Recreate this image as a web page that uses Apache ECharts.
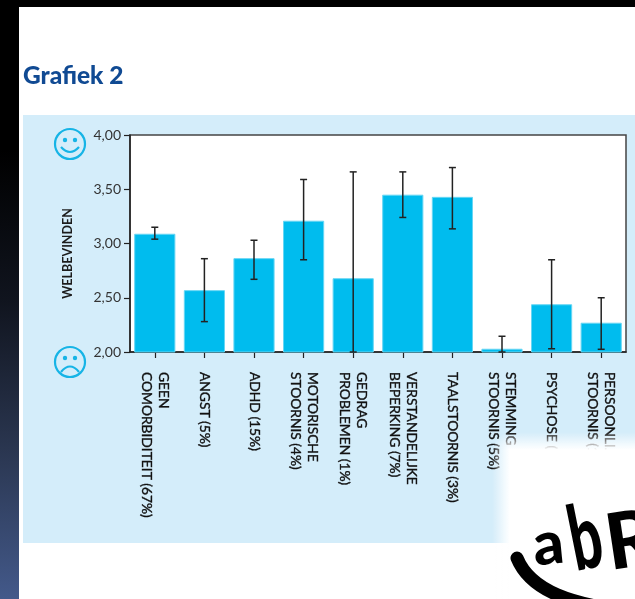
<!DOCTYPE html>
<html><head><meta charset="utf-8">
<style>html,body{margin:0;padding:0;background:#fff}#c{width:635px;height:599px}</style>
<script src="https://cdn.jsdelivr.net/npm/echarts@6/dist/echarts.min.js"></script>
</head><body><div id="c"></div>
<script>
const categories = ['GEEN\nCOMORBIDITEIT (67%)','ANGST (5%)','ADHD (15%)','MOTORISCHE\nSTOORNIS (4%)','GEDRAG\nPROBLEMEN (1%)','VERSTANDELIJKE\nBEPERKING (7%)','TAALSTOORNIS (3%)','STEMMING\nSTOORNIS (5%)','PSYCHOSE (1%)','PERSOONLIJK\nSTOORNIS (1%)'];
const means = [3.09,2.57,2.865,3.21,2.68,3.45,3.43,2.03,2.44,2.27];
const errHigh = [3.15,2.86,3.03,3.59,3.66,3.66,3.70,2.145,2.85,2.50];
const errLow = [3.04,2.28,2.67,2.85,2.0,3.24,3.135,2.0,2.03,2.025];
const yTicks = {min:2,max:4,step:0.5};
const FONT = 'Lato, "Open Sans", sans-serif';
const chart = echarts.init(document.getElementById('c'),null,{renderer:'canvas'});
const G = echarts.graphic;

function face(cy, smile){
  const cx=70, c='#16b4e6';
  const y1 = smile ? cy+3 : cy+10;
  const cp = smile ? cy+13 : cy-1;
  return {type:'group',silent:true,children:[
    {type:'circle',shape:{cx,cy,r:15},style:{fill:'transparent',stroke:c,lineWidth:2.2}},
    {type:'circle',shape:{cx:cx-5,cy:cy-4,r:2.2},style:{fill:c}},
    {type:'circle',shape:{cx:cx+5,cy:cy-4,r:2.2},style:{fill:c}},
    {type:'bezierCurve',shape:{x1:cx-9,y1:y1,x2:cx+9,y2:y1,cpx1:cx,cpy1:cp},style:{fill:'transparent',stroke:c,lineWidth:2.2}}
  ]};
}
function logoLetter(t,x,y,size,rot,sx){
  return {type:'text',silent:true,zlevel:1,x,y,rotation:rot,scaleX:sx,
    style:{x:0,y:0,text:t,fill:'#000',font:'900 '+size+'px '+FONT,verticalAlign:'bottom'}};
}
const clear='rgba(255,255,255,0)', white='#fff';

chart.setOption({
  animation:false,
  backgroundColor:'#fff',
  graphic:[
    {type:'rect',z:-10,silent:true,shape:{x:0,y:0,width:635,height:7},style:{fill:'#000'}},
    {type:'rect',z:-10,silent:true,shape:{x:0,y:0,width:19,height:599},style:{fill:new G.LinearGradient(0,0,0,1,[{offset:0,color:'#000'},{offset:0.25,color:'#000'},{offset:0.5,color:'#10141e'},{offset:0.75,color:'#2a3650'},{offset:1,color:'#43598a'}])}},
    {type:'rect',z:-10,silent:true,shape:{x:23,y:115,width:612,height:428},style:{fill:'#d4edfa'}},
    {type:'text',silent:true,style:{x:23,y:64,text:'Grafiek 2',fill:'#104a93',font:'900 24.5px '+FONT}},
    face(144,true),
    face(362,false),
    {type:'rect',silent:true,zlevel:1,shape:{x:510,y:450,width:125,height:149},style:{fill:white}},
    {type:'rect',silent:true,zlevel:1,shape:{x:510,y:432,width:125,height:18},style:{fill:new G.LinearGradient(0,0,0,1,[{offset:0,color:clear},{offset:1,color:white}])}},
    {type:'rect',silent:true,zlevel:1,shape:{x:492,y:450,width:18,height:149},style:{fill:new G.LinearGradient(0,0,1,0,[{offset:0,color:clear},{offset:1,color:white}])}},
    {type:'rect',silent:true,zlevel:1,shape:{x:492,y:432,width:18,height:18},style:{fill:new G.RadialGradient(1,1,1,[{offset:0,color:white},{offset:1,color:clear}])}},
    {type:'bezierCurve',silent:true,zlevel:1,shape:{x1:517,y1:558,cpx1:530,cpy1:590,cpx2:570,cpy2:606,x2:640,y2:612},style:{fill:'transparent',stroke:'#000',lineWidth:13,lineCap:'round'}},
    logoLetter('a',536,576,60,0.1,1),
    logoLetter('b',579,587,90,0.2,0.62),
    logoLetter('R',612,584,78,0.15,1)
  ],
  grid:{left:130,top:135,width:496,height:217,show:true,backgroundColor:'#fff',borderColor:'#444',borderWidth:1.5},
  xAxis:{type:'category',data:categories,
    axisLine:{show:true,onZero:false,lineStyle:{color:'#222',width:1.5}},
    axisTick:{show:true,alignWithLabel:true,length:6,lineStyle:{color:'#222',width:1.2}},
    axisLabel:{interval:0,rotate:-90,margin:20,color:'#111',fontFamily:FONT,fontSize:13.8,lineHeight:17,textBorderColor:'#111',textBorderWidth:0.35,padding:[0,0,3,0]}},
  yAxis:{type:'value',min:yTicks.min,max:yTicks.max,interval:yTicks.step,
    name:'WELBEVINDEN',nameLocation:'middle',nameRotate:90,nameGap:56,
    nameTextStyle:{color:'#1c1c1c',fontFamily:FONT,fontSize:12.5,fontWeight:'bold',padding:[0,20,0,0]},
    splitLine:{show:false},
    axisLine:{show:true,lineStyle:{color:'#222',width:1.5}},
    axisTick:{show:true,length:6,lineStyle:{color:'#222',width:1.2}},
    axisLabel:{margin:9,color:'#333',fontFamily:FONT,fontSize:14,formatter:v=>v.toFixed(2).replace('.',',')}},
  series:[
    {type:'bar',data:means,barCategoryGap:'17%',itemStyle:{color:'#00bcee',borderColor:'#66d6f4',borderWidth:1},silent:true},
    {type:'custom',silent:true,z:5,clip:false,data:categories.map((c,i)=>[i,errLow[i],errHigh[i]]),
     encode:{x:0,y:[1,2]},
     renderItem(p,api){
       const lo=api.coord([api.value(0),api.value(1)]),hi=api.coord([api.value(0),api.value(2)]);
       const s={stroke:'#222',lineWidth:1.5,fill:'none'};
       const w=3.5;
       return {type:'group',children:[
         {type:'line',shape:{x1:lo[0],y1:lo[1],x2:hi[0],y2:hi[1]},style:s},
         {type:'line',shape:{x1:hi[0]-w,y1:hi[1],x2:hi[0]+w,y2:hi[1]},style:s},
         {type:'line',shape:{x1:lo[0]-w,y1:lo[1],x2:lo[0]+w,y2:lo[1]},style:s}
       ]};
     }}
  ]
});
</script></body></html>
